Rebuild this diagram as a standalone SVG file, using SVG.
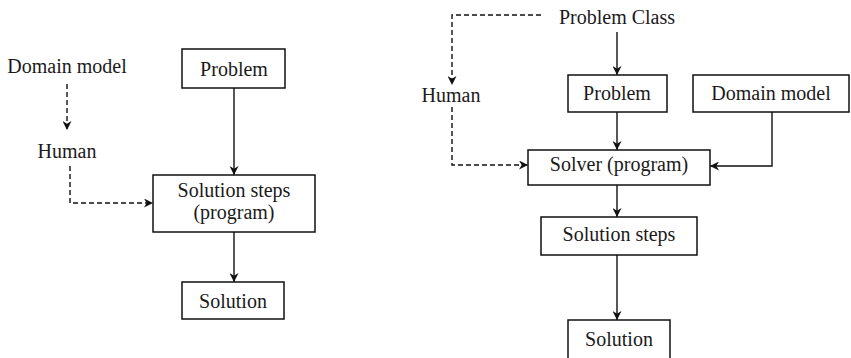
<svg xmlns="http://www.w3.org/2000/svg" width="851" height="358" viewBox="0 0 851 358">
<style>
text{font-family:"Liberation Serif","Times New Roman",serif;font-size:20px;fill:#1a1a1a;text-anchor:middle}
.box{fill:#fff;stroke:#111;stroke-width:1.5}
.ln{fill:none;stroke:#111;stroke-width:1.4}
.dash{stroke-dasharray:5,3}
</style>
<defs>
<marker id="ah" viewBox="0 0 10 10" refX="10" refY="5" markerWidth="9" markerHeight="9" markerUnits="userSpaceOnUse" orient="auto">
<path d="M0,0 L10,5 L0,10 L3,5 Z" fill="#111"/>
</marker>
</defs>
<rect width="851" height="358" fill="#fff"/>
<g id="connectors">
<path class="ln dash" d="M67,84 V130" marker-end="url(#ah)"/>
<path class="ln dash" d="M70,166 V203 H153" marker-end="url(#ah)"/>
<path class="ln" d="M234,88 V175" marker-end="url(#ah)"/>
<path class="ln" d="M234,232 V282" marker-end="url(#ah)"/>
<path class="ln dash" d="M541,15 H452 V85" marker-end="url(#ah)"/>
<path class="ln dash" d="M452,107 V165 H528" marker-end="url(#ah)"/>
<path class="ln" d="M617,32 V75" marker-end="url(#ah)"/>
<path class="ln" d="M617,112 V150" marker-end="url(#ah)"/>
<path class="ln" d="M772,112 V166 H710" marker-end="url(#ah)"/>
<path class="ln" d="M617,185 V217" marker-end="url(#ah)"/>
<path class="ln" d="M617,255 V320" marker-end="url(#ah)"/>
</g>
<g id="l-domain"><text x="67" y="73">Domain model</text></g>
<g id="l-human"><text x="67" y="158">Human</text></g>
<g id="l-problem"><rect class="box" x="182" y="49" width="103" height="39"/><text x="234" y="76">Problem</text></g>
<g id="l-steps"><rect class="box" x="153" y="175" width="162" height="57"/><text x="234" y="197">Solution steps</text><text x="234" y="219">(program)</text></g>
<g id="l-solution"><rect class="box" x="182" y="282" width="102" height="37"/><text x="233" y="308">Solution</text></g>
<g id="r-class"><text x="617" y="24">Problem Class</text></g>
<g id="r-human"><text x="451" y="102">Human</text></g>
<g id="r-problem"><rect class="box" x="568" y="75" width="99" height="37"/><text x="617" y="100">Problem</text></g>
<g id="r-domain"><rect class="box" x="693" y="75" width="156" height="37"/><text x="771" y="100">Domain model</text></g>
<g id="r-solver"><rect class="box" x="528" y="150" width="182" height="35"/><text x="619" y="171">Solver (program)</text></g>
<g id="r-steps"><rect class="box" x="541" y="217" width="156" height="38"/><text x="619" y="241">Solution steps</text></g>
<g id="r-solution"><rect class="box" x="568" y="320" width="102" height="45"/><text x="619" y="346">Solution</text></g>
</svg>
